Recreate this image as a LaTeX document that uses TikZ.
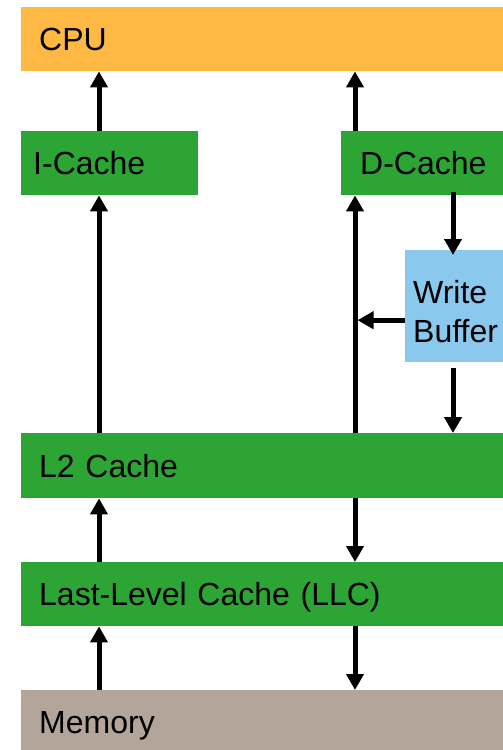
\documentclass[tikz,border=0pt]{standalone}
\usepackage{fontspec}
\setmainfont{Liberation Sans}
\usetikzlibrary{arrows.meta}
\definecolor{cpuColor}{HTML}{FDB943}
\definecolor{cacheColor}{HTML}{2CA534}
\definecolor{bufColor}{HTML}{8AC8EE}
\definecolor{memColor}{HTML}{B3A59A}

\begin{document}
\begin{tikzpicture}[x=1pt, y=1pt,
		flow/.style={-{Triangle[width=17pt,length=16pt]}, line width=5pt},
		unit/.style={anchor=north west, inner ysep=0pt, minimum height=64pt, align=left,
			font=\fontsize{32}{39}\selectfont}]
	\useasboundingbox (0,0) rectangle (503,-750);
	\node[unit, fill=cpuColor, inner xsep=18pt, text width=446pt] (cpu) at (21, -7) {CPU};
	
	\node[unit, fill=cacheColor, inner xsep=12pt, text width=153pt] (icache) at (21, -131) {I-Cache};
	\node[unit, fill=cacheColor, inner xsep=19pt, text width=150pt] (dcache) at (341, -131) {D-Cache};
	\node[unit, fill=bufColor, inner xsep=8pt, text width=82pt, minimum height=112pt, text depth=28pt] (wbuf) at (405, -250) {Write\\Buffer};
	
	\node[unit, fill=cacheColor, inner xsep=18pt, text width=446pt, minimum height=65pt] (l2) at (21, -433) {L2 Cache};
	\node[unit, fill=cacheColor, inner xsep=18pt, text width=446pt, text depth=0pt] (llc) at (21, -562) {Last-Level Cache (LLC)};
	\node[unit, fill=memColor, inner xsep=18pt, text width=446pt, text depth=0pt] (mem) at (21, -690) {Memory};
	
	\coordinate (lcol) at (99, 0);
	\coordinate (rcol) at (355, 0);
	\coordinate (wcol) at (453, 0);
	
	\draw[flow] (icache.north -| lcol) -- (cpu.south -| lcol);
	\draw[flow] (dcache.north -| rcol) -- (cpu.south -| rcol);
	\draw[flow] (l2.north -| lcol) -- (icache.south -| lcol);
	\draw[flow] (l2.north -| rcol) -- (dcache.south -| rcol);
	\draw[flow] ([yshift=3pt]dcache.south -| wcol) -- ([yshift=-5pt]wbuf.north -| wcol);
	\draw[flow] ([yshift=-6pt]wbuf.south -| wcol) -- (l2.north -| wcol);
	\draw[flow, shorten >=2.5pt] ([yshift=-14pt]wbuf.west) -- ([yshift=-14pt]wbuf.west -| rcol);
	\draw[flow] (llc.north -| lcol) -- (l2.south -| lcol);
	\draw[flow] (l2.south -| rcol) -- (llc.north -| rcol);
	\draw[flow] (mem.north -| lcol) -- (llc.south -| lcol);
	\draw[flow] (llc.south -| rcol) -- (mem.north -| rcol);
\end{tikzpicture}
\end{document}
